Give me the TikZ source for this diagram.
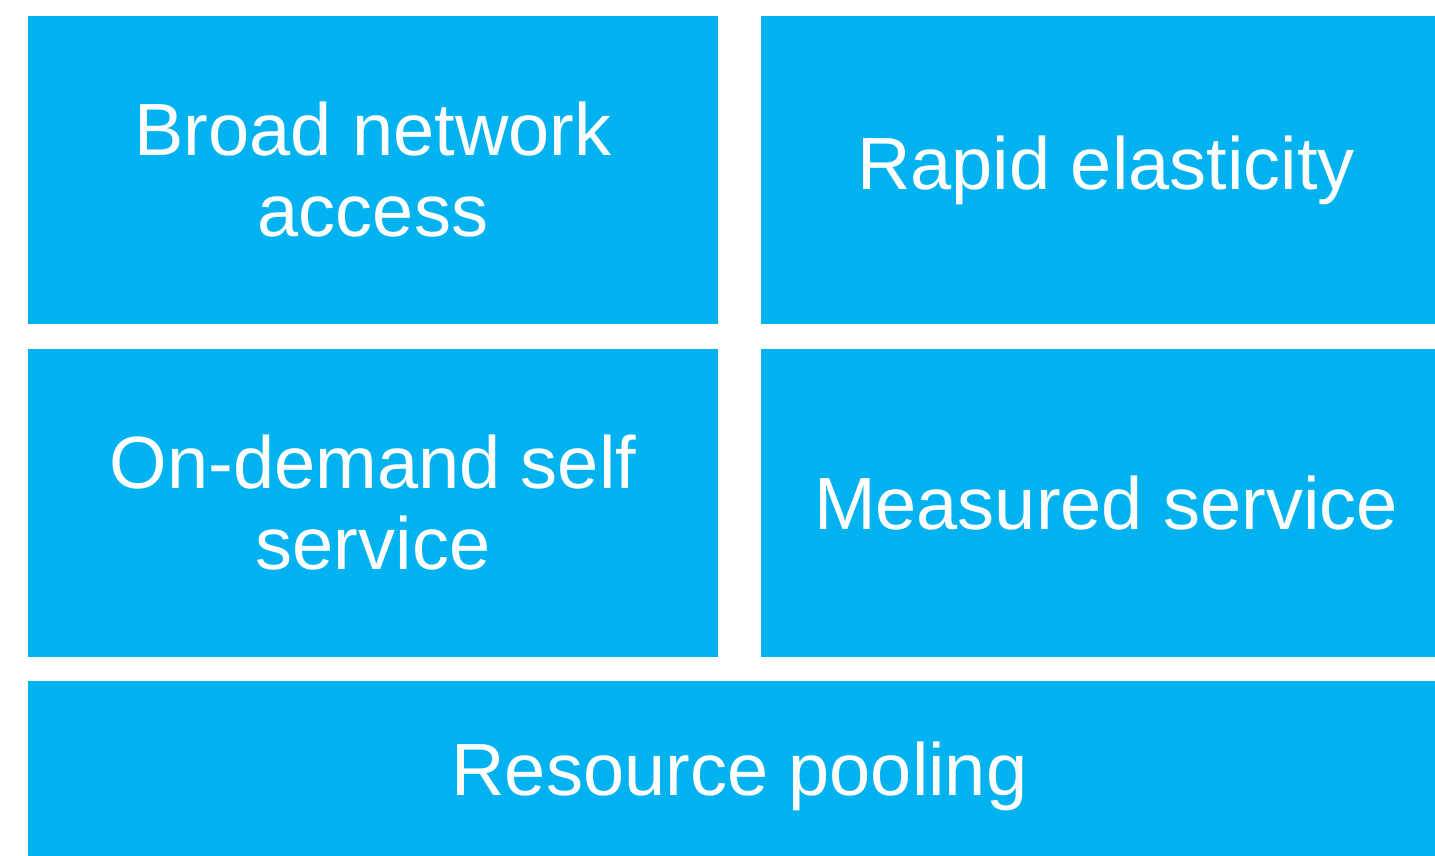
\documentclass[tikz,border=0pt]{standalone}
\usepackage{fontspec}
\setmainfont{Liberation Sans}
\definecolor{skyblue}{HTML}{00B2F0}

\begin{document}
\begin{tikzpicture}
  [x=1pt, y=-1pt, every node/.style={fill=skyblue, text=white, align=center, inner sep=0pt,
   font=\fontsize{74}{81}\selectfont, minimum width=690pt, minimum height=308pt}]
  \useasboundingbox (0,0) rectangle (1435,855);
  \clip (0,0) rectangle (1435,855);

  % top row
  \node (broad) at (373,170) {Broad network\\access};
  \node (rapid) at (1106,170) {Rapid elasticity};

  % middle row
  \node (ondemand) at (373,503) {On-demand self\\service};
  \node (measured) at (1106,503) {Measured service};

  % bottom bar
  \node [minimum width=1423pt, minimum height=190pt] (pooling) at (739.5,776) {Resource pooling};
\end{tikzpicture}
\end{document}
